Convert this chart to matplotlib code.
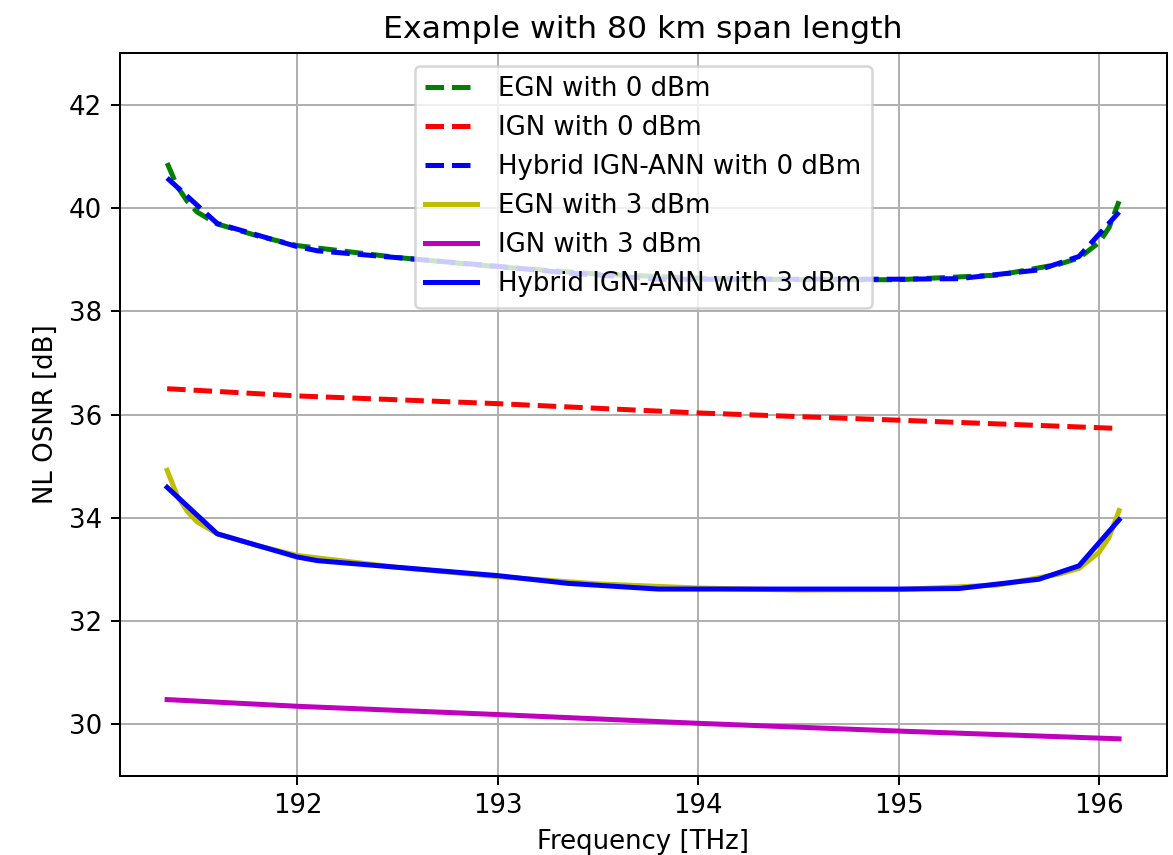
import matplotlib
matplotlib.use("Agg")
import matplotlib.pyplot as plt

# ---- data ----
f_egn = [191.35, 191.40, 191.45, 191.50, 191.60, 191.80, 192.00, 192.50, 193.00,
         193.50, 194.00, 194.50, 195.00, 195.50, 195.80, 195.90, 196.00, 196.05, 196.10]
egn_0dbm = [40.87, 40.42, 40.13, 39.92, 39.69, 39.46, 39.27, 39.04, 38.86,
            38.72, 38.64, 38.61, 38.61, 38.70, 38.91, 39.03, 39.33, 39.62, 40.13]
egn_3dbm = [34.92, 34.43, 34.13, 33.92, 33.69, 33.46, 33.27, 33.04, 32.86,
            32.72, 32.64, 32.60, 32.61, 32.70, 32.91, 33.02, 33.33, 33.62, 34.14]

f_ign = [191.35, 192.0, 193.0, 194.0, 195.0, 196.1]
ign_0dbm = [36.50, 36.36, 36.21, 36.03, 35.89, 35.73]
ign_3dbm = [30.48, 30.35, 30.19, 30.02, 29.87, 29.72]

f_hyb = [191.35, 191.60, 192.00, 192.10, 193.00, 193.35, 193.80, 194.50,
         195.00, 195.30, 195.70, 195.90, 196.10]
hyb_0dbm = [40.58, 39.70, 39.25, 39.17, 38.87, 38.74, 38.62, 38.62,
            38.62, 38.63, 38.80, 39.06, 39.92]
hyb_3dbm = [34.59, 33.69, 33.24, 33.17, 32.88, 32.73, 32.62, 32.62,
            32.62, 32.63, 32.81, 33.07, 33.96]

labels = ["EGN with 0 dBm", "IGN with 0 dBm", "Hybrid IGN-ANN with 0 dBm",
          "EGN with 3 dBm", "IGN with 3 dBm", "Hybrid IGN-ANN with 3 dBm"]

plt.rcParams['font.size'] = 10.4
plt.rcParams['axes.titlesize'] = 12.6

fig = plt.figure(figsize=(1173 / 180, 855 / 180), dpi=180)
ax = fig.add_axes([0.1019, 0.0924, 0.8927, 0.8456])

ax.plot(f_egn, egn_0dbm, 'g--', lw=2, label=labels[0])
ax.plot(f_ign, ign_0dbm, 'r--', lw=2, label=labels[1])
ax.plot(f_hyb, hyb_0dbm, 'b--', lw=2, label=labels[2])
ax.plot(f_egn, egn_3dbm, 'y-', lw=2, label=labels[3])
ax.plot(f_ign, ign_3dbm, 'm-', lw=2, label=labels[4])
ax.plot(f_hyb, hyb_3dbm, 'b-', lw=2, label=labels[5])

ax.set_ylim(29, 43)
ax.set_yticks([30, 32, 34, 36, 38, 40, 42])
ax.set_xticks([192, 193, 194, 195, 196])
ax.grid(True)
ax.set_title("Example with 80 km span length")
ax.set_xlabel("Frequency [THz]")
ax.set_ylabel("NL OSNR [dB]")
ax.legend(loc="upper center")

fig.savefig("out.png", dpi=180)
